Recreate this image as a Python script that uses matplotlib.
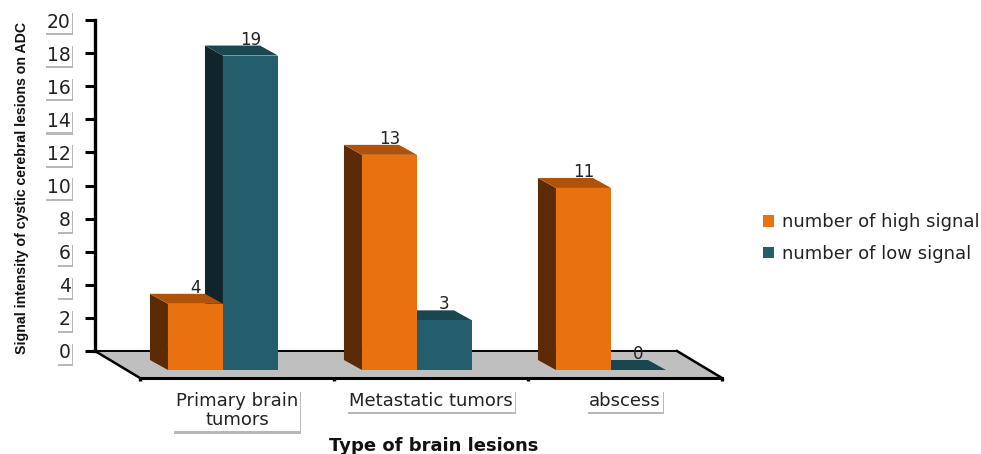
import matplotlib
matplotlib.use("Agg")
import matplotlib.pyplot as plt
import matplotlib.patheffects as pe
from matplotlib.patches import Patch

categories = ["Primary brain\ntumors", "Metastatic tumors", "abscess"]
high_signal = [4, 13, 11]
low_signal = [19, 3, 0]
yticks = list(range(0, 21, 2))
series_names = ["number of high signal", "number of low signal"]

ORANGE = ("#E8720F", "#B0530A", "#5C2A05")   # front, top, side
TEAL = ("#245E6C", "#1A4650", "#10252B")
FLOOR = "#BFBFBF"

W, H = 981, 454
fig = plt.figure(figsize=(W / 100, H / 100), dpi=100, facecolor="white")
ax = fig.add_axes([95 / W, 1 - 351 / H, 582 / W, 331 / H])
ax.set_xlim(0, 3)
ax.set_ylim(0, 20)
ax.patch.set_visible(False)

# Oblique projection: units of depth expressed in data units per pixel
PX = 3 / 582
PY = 20 / 331
FLOOR_DX, FLOOR_DY = 45 * PX, -27 * PY
BACK_DX, BACK_DY = 15 * PX, -9 * PY
FRONT_DX, FRONT_DY = 33 * PX, -19 * PY
BAR_W = 55 * PX
GROUP_START = 0.206

# Floor of the 3-D box
ax.fill([0, 3, 3 + FLOOR_DX, FLOOR_DX], [0, 0, FLOOR_DY, FLOOR_DY],
        color=FLOOR, clip_on=False, zorder=1, lw=0)
ax.plot([0, 3], [0, 0], color="black", lw=1.4, clip_on=False, zorder=2)
for x0, x1 in [(0, FLOOR_DX), (3, 3 + FLOOR_DX)]:
    ax.plot([x0, x1], [0, FLOOR_DY], color="black", lw=1.8, clip_on=False, zorder=2)
ax.plot([FLOOR_DX, 3 + FLOOR_DX], [FLOOR_DY, FLOOR_DY], color="black", lw=2.2,
        clip_on=False, zorder=2)
for i in range(4):
    ax.plot([i + FLOOR_DX] * 2, [FLOOR_DY, FLOOR_DY - 3 * PY], color="black", lw=2.4,
            clip_on=False, zorder=2, solid_capstyle="butt")


def draw_bar(x, value, shades, z):
    front, top, side = shades
    xb, yb = x + BACK_DX, BACK_DY
    xf, yf = x + FRONT_DX, FRONT_DY
    if value > 0:
        ax.fill([xb, xf, xf, xb], [yb, yf, yf + value, yb + value],
                color=side, lw=0, clip_on=False, zorder=z)
    ax.fill([xb, xb + BAR_W, xf + BAR_W, xf],
            [yb + value, yb + value, yf + value, yf + value],
            color=top, lw=0, clip_on=False, zorder=z)
    ax.bar(xf, value, BAR_W, bottom=yf, align="edge", color=front, lw=0,
           clip_on=False, zorder=z + 0.1)
    ax.annotate(str(value), (xf + BAR_W / 2, yf + value), xytext=(0, 11.5),
                textcoords="offset points", ha="center", va="center",
                fontsize=12, color="#222222", zorder=z + 5, annotation_clip=False)


for i, (hi, lo) in enumerate(zip(high_signal, low_signal)):
    left = i + GROUP_START
    draw_bar(left + BAR_W, lo, TEAL, 3 + i)
    draw_bar(left, hi, ORANGE, 3.5 + i)

shadow = [pe.SimplePatchShadow(offset=(0.4, -1.5), shadow_rgbFace="#8a8a8a", alpha=0.6),
          pe.Normal()]

# Value axis
for s in ["top", "right", "bottom"]:
    ax.spines[s].set_visible(False)
ax.spines["left"].set_linewidth(2.4)
ax.set_xticks([])
ax.set_yticks(yticks)
ax.tick_params(axis="y", length=7, width=2.2, pad=10.5, labelsize=13.5,
               labelcolor="#222222")
for lab in ax.get_yticklabels():
    lab.set_bbox(dict(facecolor="white", edgecolor="none", pad=1.2))
    lab.get_bbox_patch().set_path_effects(shadow)

# Category labels
for i, name in enumerate(categories):
    t = ax.annotate(name, (i + 0.5 + FLOOR_DX, FLOOR_DY), xytext=(0, -10),
                    textcoords="offset points", ha="center", va="top",
                    fontsize=13, color="#222222", linespacing=1.1,
                    annotation_clip=False,
                    bbox=dict(facecolor="white", edgecolor="none", pad=1.5))
    t.get_bbox_patch().set_path_effects(shadow)

fig.text(22 / W, 1 - 188 / H, "Signal intensity of cystic cerebral lesions on ADC",
         rotation=90, ha="center", va="center", fontsize=10.2, fontweight="bold",
         family="Liberation Sans", color="#111111")
fig.text(434 / W, 1 - 446 / H, "Type of brain lesions", ha="center", va="center",
         fontsize=13, fontweight="bold", color="#111111")

handles = [Patch(facecolor=ORANGE[0]), Patch(facecolor=TEAL[0])]
fig.legend(handles, series_names, loc="center left",
           bbox_to_anchor=(763 / W, 1 - 238 / H), frameon=False, fontsize=13,
           handlelength=0.6, handleheight=0.6, handletextpad=0.45, labelspacing=0.75,
           labelcolor="#222222", borderpad=0, borderaxespad=0)

fig.savefig("out.png", dpi=100)
